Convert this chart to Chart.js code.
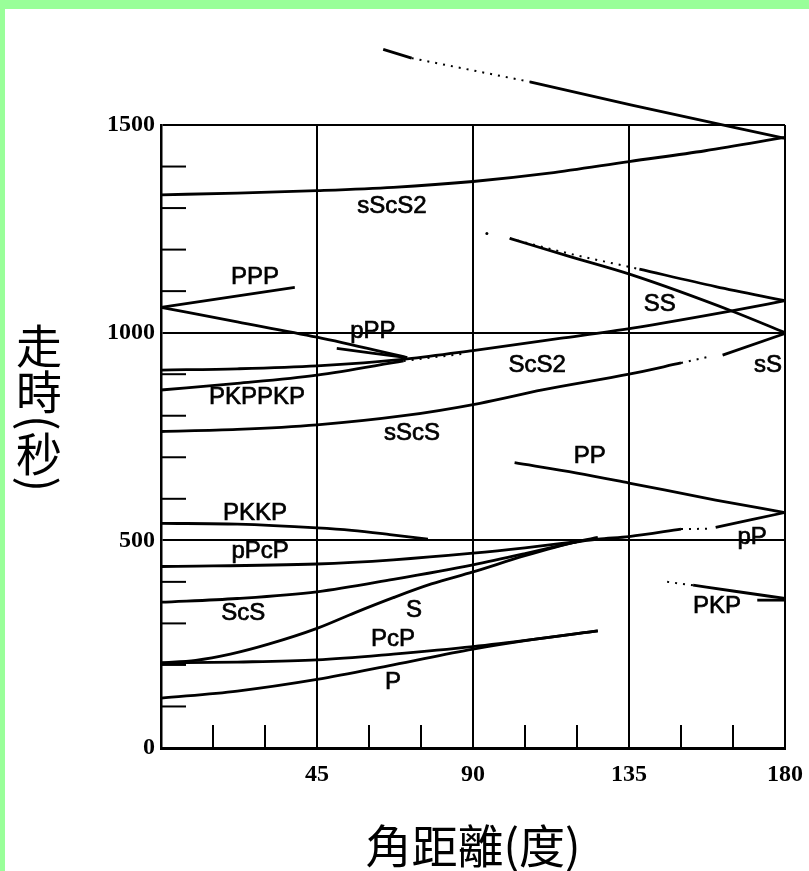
<!DOCTYPE html>
<html>
  <head>
    <meta charset="utf-8" />
    <title>走時曲線</title>
    <script src="https://cdn.jsdelivr.net/npm/chart.js"></script>
    <style>
      body {
        margin: 0;
        background: #99ff99;
        width: 809px;
        height: 871px;
        overflow: hidden;
      }
      .panel {
        position: absolute;
        left: 5px;
        top: 9px;
        width: 804px;
        height: 862px;
        background: #fff;
      }
    </style>
  </head>
  <body>
    <div class="panel">
      <canvas id="ttChart" width="804" height="862"></canvas>
    </div>

    <script>
      // travel time curves: [distance (deg), time (s)]
      const P = [[0, 120], [22, 137], [45, 165], [67, 200], [90, 238], [108, 262], [126, 282]];
      const PcP = [[0, 205], [22, 207], [45, 212], [67, 226], [90, 244], [108, 262], [126, 282]];
      const S = [[0, 205], [10, 211], [20, 226], [31, 250], [45, 288], [56, 326], [67, 362], [78, 395], [90, 424], [105, 463], [120, 497], [126, 507]];
      const ScS = [[0, 351], [22, 360], [45, 376], [67, 406], [90, 441], [105, 468], [120, 497]];
      const pPcP = [[0, 437], [45, 443], [67, 453], [90, 469], [105, 482], [120, 497]];
      const PKKP = [[0, 541], [22, 539], [45, 530], [55, 524], [66, 514], [77, 503]];
      const pP = [[118, 494], [126, 503], [135, 509], [150, 527]];
      const pPDots = [[150, 527], [158, 528]];
      const pPEnd = [[160, 531], [180, 567]];
      const PP = [[102, 687], [120, 662], [135, 638], [160, 597], [180, 567]];
      const PKPDots = [[146, 400], [153.5, 392]];
      const PKP = [[153.5, 392], [165, 378], [180, 360]];
      const PKPBranch = [[172, 356], [180, 356]];
      const sScS = [[0, 762], [22, 767], [45, 778], [70, 800], [92, 830], [110, 862], [135, 900], [150, 927]];
      const sScSDots = [[150, 927], [159, 944]];
      const sS = [[162, 946], [180, 998]];
      const ScS2 = [[0, 910], [22, 913], [45, 920], [71, 937], [90, 957], [115, 986], [136, 1011], [165, 1053], [180, 1077]];
      const PKPPKP = [[0, 862], [22, 878], [45, 898], [70, 932]];
      const PKPPKPDots = [[70, 932], [88, 950]];
      const PPPUpper = [[0, 1061], [38.6, 1109]];
      const PPPLower = [[0, 1061], [22, 1026], [45, 989], [71, 940]];
      const pPP = [[50.7, 962], [71, 940]];
      const sScS2 = [[0, 1332], [22, 1336], [45, 1342], [67, 1350], [90, 1364], [112, 1384], [135, 1412], [157, 1438], [180, 1470]];
      const SS = [[100.6, 1227], [118, 1183], [135.8, 1139], [165, 1051], [180, 1000]];
      const SSUpperDots = [[100.6, 1227], [118, 1190], [138, 1153]];
      const SSUpper = [[138, 1153], [160, 1111], [180, 1077]];
      const strayDot = [[94, 1239]];
      const topStart = [[64.1, 1682], [72.3, 1661]];
      const topDots = [[72.3, 1661], [106.4, 1604]];
      const topEnd = [[106.4, 1604], [135.8, 1548], [180, 1468]];

      // phase names placed at [distance, time]
      const phaseLabels = [
        ["sScS2", 66.6, 1303],
        ["PPP", 27.1, 1132],
        ["pPP", 61.1, 1004],
        ["SS", 143.9, 1067],
        ["ScS2", 108.5, 922],
        ["sS", 175.1, 922],
        ["PKPPKP", 27.7, 843],
        ["sScS", 72.4, 758],
        ["PP", 123.7, 701],
        ["PKKP", 27.1, 566],
        ["pPcP", 28.6, 474],
        ["pP", 170.5, 506],
        ["ScS", 23.7, 325],
        ["S", 73, 332],
        ["PKP", 160.4, 340],
        ["PcP", 66.9, 262],
        ["P", 66.9, 157],
      ];

      const xMinorTicks = [15, 30, 60, 75, 105, 120, 150, 165];
      const yMinorTicks = [100, 200, 300, 400, 600, 700, 800, 900, 1100, 1200, 1300, 1400];
      const xTitle = "角距離(度)";
      const yTitle = "走時(秒)";

      const toXY = (pts) => pts.map(([x, y]) => ({ x, y }));

      function curve(pts, dotted) {
        return {
          data: toXY(pts),
          showLine: true,
          borderColor: "#000",
          backgroundColor: "#000",
          borderWidth: dotted ? 2 : 2.8,
          borderDash: dotted ? [2, 6] : [],
          pointRadius: 0,
          cubicInterpolationMode: "monotone",
          clip: false,
        };
      }

      const datasets = [
        curve(P), curve(PcP), curve(S), curve(ScS), curve(pPcP), curve(PKKP),
        curve(pP), curve(pPDots, true), curve(pPEnd), curve(PP),
        curve(PKPDots, true), curve(PKP), curve(PKPBranch),
        curve(sScS), curve(sScSDots, true), curve(sS), curve(ScS2),
        curve(PKPPKP), curve(PKPPKPDots, true),
        curve(PPPUpper), curve(PPPLower), curve(pPP),
        curve(sScS2), curve(SS), curve(SSUpperDots, true), curve(SSUpper),
        curve(topStart), curve(topDots, true), curve(topEnd),
      ];
      datasets.push({
        data: toXY(strayDot),
        pointRadius: 1.5,
        backgroundColor: "#000",
        borderWidth: 0,
        showLine: false,
      });

      const decorPlugin = {
        id: "decor",
        afterDatasetsDraw(chart) {
          const { ctx, chartArea: a } = chart;
          const x = chart.scales.x;
          const y = chart.scales.y;
          ctx.save();
          ctx.strokeStyle = "#000";
          ctx.lineWidth = 2;
          // inner minor ticks
          yMinorTicks.forEach((v) => {
            const py = y.getPixelForValue(v);
            ctx.beginPath();
            ctx.moveTo(a.left, py);
            ctx.lineTo(a.left + 25, py);
            ctx.stroke();
          });
          xMinorTicks.forEach((v) => {
            const px = x.getPixelForValue(v);
            ctx.beginPath();
            ctx.moveTo(px, a.bottom);
            ctx.lineTo(px, a.bottom - 23);
            ctx.stroke();
          });

          // phase names
          ctx.fillStyle = "#000";
          ctx.lineWidth = 0.7;
          ctx.font = '24px "Liberation Sans", Arial, sans-serif';
          ctx.textAlign = "center";
          ctx.textBaseline = "middle";
          phaseLabels.forEach(([t, d, s]) => {
            const px = x.getPixelForValue(d);
            const py = y.getPixelForValue(s);
            ctx.fillText(t, px, py);
            ctx.strokeText(t, px, py);
          });

          // vertical y title
          const size = 46;
          ctx.font = size + 'px "Noto Sans CJK TC", sans-serif';
          let cy = a.top + 198;
          const cx = 34;
          for (const ch of yTitle) {
            if (ch === "(" || ch === ")") {
              const w = ctx.measureText(ch).width;
              ctx.save();
              ctx.translate(cx, cy + w / 2);
              ctx.rotate(Math.PI / 2);
              ctx.fillText(ch, 0, 0);
              ctx.restore();
              cy += w;
            } else {
              ctx.fillText(ch, cx, cy + size / 2);
              cy += size;
            }
          }
          ctx.restore();
        },
      };

      new Chart(document.getElementById("ttChart"), {
        type: "scatter",
        data: { datasets },
        plugins: [decorPlugin],
        options: {
          responsive: false,
          animation: false,
          events: [],
          layout: { padding: { top: 116, right: 24, left: 0, bottom: 0 } },
          plugins: { legend: { display: false }, tooltip: { enabled: false } },
          scales: {
            x: {
              type: "linear",
              min: 0,
              max: 180,
              afterFit: (s) => {
                s.height = 123;
                s.paddingLeft = 0;
                s.paddingRight = 0;
              },
              ticks: {
                stepSize: 45,
                padding: 12,
                color: "#000",
                font: { family: '"Liberation Serif", serif', size: 24, weight: "bold" },
                callback: (v) => (v === 0 ? "" : String(v)),
              },
              grid: { color: "#000", lineWidth: 2, drawTicks: false },
              border: { color: "#000", width: 3 },
              title: {
                display: true,
                text: xTitle,
                color: "#000",
                font: { family: '"Noto Sans CJK TC", sans-serif', size: 46, lineHeight: 1 },
                padding: { top: 0, bottom: 2 },
              },
            },
            y: {
              type: "linear",
              min: 0,
              max: 1500,
              afterFit: (s) => { s.width = 156; },
              ticks: {
                stepSize: 500,
                padding: 6,
                color: "#000",
                font: { family: '"Liberation Serif", serif', size: 24, weight: "bold" },
                callback: (v) => String(v),
              },
              grid: { color: "#000", lineWidth: 2, drawTicks: false },
              border: { color: "#000", width: 2.5 },
            },
          },
        },
      });
    </script>
  </body>
</html>
